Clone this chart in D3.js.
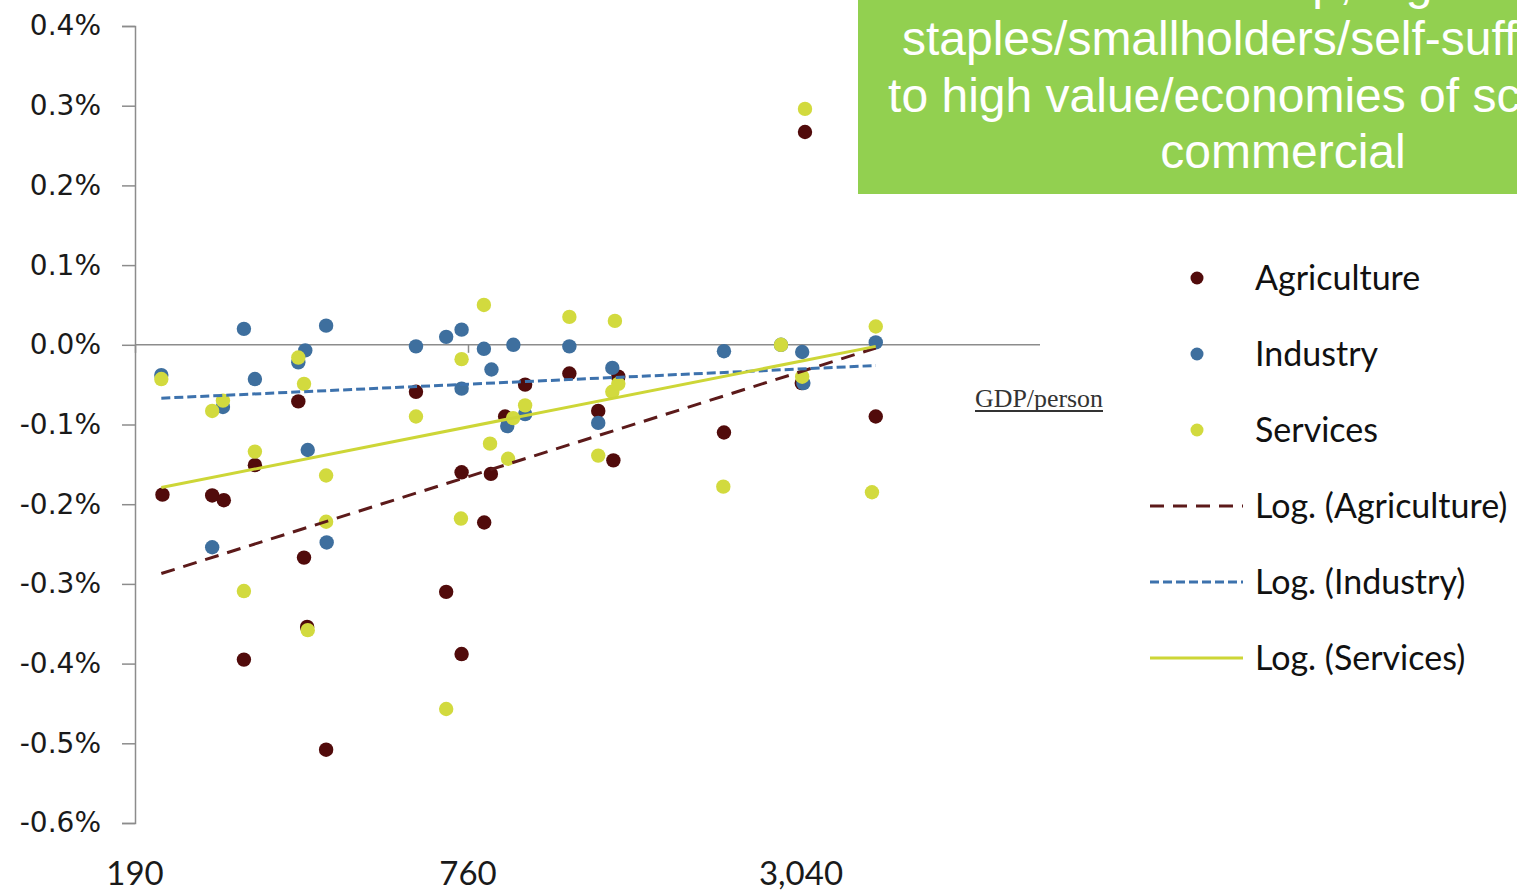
<!DOCTYPE html>
<html lang="en">
<head>
<meta charset="utf-8">
<script src="https://cdn.jsdelivr.net/npm/d3@7/dist/d3.min.js"></script>
<style>
  body { margin: 0; background: #fff; }
  svg { display: block; }
</style>
</head>
<body>
<svg id="chart"></svg>
<script>
// GDP per person (log axis) vs change in share, % per year
const agriculture = [
  [213, -0.188], [262, -0.189], [275, -0.195], [299, -0.395], [313, -0.151],
  [375, -0.071], [384, -0.267], [389, -0.354], [421, -0.508], [612, -0.059],
  [694, -0.310], [740, -0.160], [740, -0.388], [813, -0.223], [836, -0.162],
  [887, -0.090], [964, -0.050], [1159, -0.036], [1307, -0.083], [1392, -0.145],
  [1421, -0.040], [2206, -0.110], [3050, -0.048], [3091, 0.267], [4150, -0.090]
];
const industry = [
  [212, -0.038], [262, -0.254], [274, -0.078], [299, 0.020], [313, -0.043],
  [375, -0.022], [386, -0.007], [390, -0.132], [421, 0.024], [422, -0.248],
  [612, -0.002], [694, 0.010], [740, 0.019], [740, -0.055], [812, -0.005],
  [838, -0.031], [895, -0.102], [918, 0.000], [964, -0.087], [1159, -0.002],
  [1307, -0.098], [1386, -0.029], [2206, -0.008], [2797, 0.000], [3055, -0.009],
  [3070, -0.048], [4150, 0.003]
];
const services = [
  [212, -0.043], [262, -0.083], [274, -0.070], [299, -0.309], [313, -0.134],
  [375, -0.016], [384, -0.049], [390, -0.358], [421, -0.164], [421, -0.222],
  [612, -0.090], [694, -0.457], [740, -0.018], [738, -0.218], [812, 0.050],
  [833, -0.124], [898, -0.143], [917, -0.092], [964, -0.076], [1159, 0.035],
  [1307, -0.139], [1386, -0.059], [1401, 0.030], [1421, -0.049], [2200, -0.178],
  [2797, 0.000], [3055, -0.040], [3091, 0.296], [4085, -0.185], [4150, 0.023]
];

// logarithmic trendlines (straight on the log axis), start and end
const trendAgriculture = [[212, -0.287], [4150, -0.004]];
const trendIndustry = [[212, -0.067], [4150, -0.026]];
const trendServices = [[212, -0.179], [4150, -0.002]];

const xTicks = [190, 760, 3040];
const yTicks = d3.range(-6, 5).map(d => d / 10);

const boxLines = [
  "Farms scale up, e.g. from",
  "staples/smallholders/self-sufficiency",
  "to high value/economies of scale and",
  "commercial"
];

const width = 1517;
const height = 895;

const svg = d3.select("#chart")
    .attr("width", width)
    .attr("height", height);

const x = d3.scaleLog().domain([190, 3040]).range([135, 801]);
const y = d3.scaleLinear().domain([-0.6, 0.4]).range([823, 26]);

const series = [
  { name: "Agriculture", data: agriculture, trend: trendAgriculture,
    dot: "#510b0b", line: "#5c1a1a", dash: "14,9" },
  { name: "Industry", data: industry, trend: trendIndustry,
    dot: "#3e6f9e", line: "#3d72ad", dash: "9,4" },
  { name: "Services", data: services, trend: trendServices,
    dot: "#d2da3e", line: "#cdd637", dash: null }
];

// y axis
const yAxis = svg.append("g")
    .attr("transform", "translate(135,0)")
    .call(d3.axisLeft(y).tickValues(yTicks).tickSize(13).tickPadding(21)
        .tickFormat(d => d.toFixed(1) + "%"));
yAxis.select(".domain").attr("stroke", "#8c8c8c").attr("stroke-width", 1.5);
yAxis.selectAll(".tick line").attr("stroke", "#8c8c8c").attr("stroke-width", 1.5);
yAxis.selectAll("text")
    .attr("font-family", "'DejaVu Sans', Verdana, sans-serif")
    .attr("font-size", 28)
    .attr("fill", "#1a1a1a");

// x axis crosses at zero, labels sit at the bottom
const xAxis = svg.append("g")
    .attr("transform", `translate(0,${y(0)})`)
    .call(d3.axisBottom(x).tickValues(xTicks).tickSize(8).tickFormat(""));
xAxis.select(".domain")
    .attr("d", `M${x(190)},0H1040`)
    .attr("stroke", "#8c8c8c").attr("stroke-width", 1.5);
xAxis.selectAll(".tick line").attr("stroke", "#8c8c8c").attr("stroke-width", 1.5);

svg.append("g").selectAll("text")
    .data(xTicks)
    .join("text")
    .attr("x", d => x(d))
    .attr("y", 885)
    .attr("text-anchor", "middle")
    .attr("font-family", "Lato, sans-serif")
    .attr("font-size", 33)
    .attr("fill", "#1a1a1a")
    .text(d => d3.format(",")(d));

// points
series.forEach(s => {
  svg.append("g").selectAll("circle")
      .data(s.data)
      .join("circle")
      .attr("cx", d => x(d[0]))
      .attr("cy", d => y(d[1]))
      .attr("r", 7.2)
      .attr("fill", s.dot);
});

// trendlines
const line = d3.line().x(d => x(d[0])).y(d => y(d[1]));
series.forEach(s => {
  svg.append("path")
      .datum(s.trend)
      .attr("d", line)
      .attr("fill", "none")
      .attr("stroke", s.line)
      .attr("stroke-width", 3)
      .attr("stroke-dasharray", s.dash);
});

// axis title
svg.append("text")
    .attr("x", 975)
    .attr("y", 407)
    .attr("font-family", "'Liberation Serif', 'DejaVu Serif', serif")
    .attr("font-size", 25)
    .attr("textLength", 128)
    .attr("lengthAdjust", "spacingAndGlyphs")
    .attr("fill", "#333")
    .text("GDP/person");
svg.append("line")
    .attr("x1", 975).attr("x2", 1103)
    .attr("y1", 411).attr("y2", 411)
    .attr("stroke", "#333").attr("stroke-width", 2);

// legend
const legend = svg.append("g");
series.forEach((s, i) => {
  const cy = 278 + i * 76;
  legend.append("circle")
      .attr("cx", 1197).attr("cy", cy).attr("r", 6.5)
      .attr("fill", s.dot);
  legend.append("text")
      .attr("x", 1255).attr("y", cy + 12)
      .attr("font-family", "Lato, sans-serif")
      .attr("font-size", 34)
      .attr("fill", "#111")
      .text(s.name);
});
series.forEach((s, i) => {
  const ly = 506 + i * 76;
  legend.append("line")
      .attr("x1", 1150).attr("x2", 1243)
      .attr("y1", ly).attr("y2", ly)
      .attr("stroke", s.line)
      .attr("stroke-width", 3)
      .attr("stroke-dasharray", s.dash);
  legend.append("text")
      .attr("x", 1255).attr("y", ly + 12)
      .attr("font-family", "Lato, sans-serif")
      .attr("font-size", 34)
      .attr("fill", "#111")
      .text(`Log. (${s.name})`);
});

// green call-out box, runs off the right edge as in the source slide
svg.append("rect")
    .attr("x", 858).attr("y", -10)
    .attr("width", 900).attr("height", 204)
    .attr("fill", "#92d050");
svg.append("g").selectAll("text")
    .data(boxLines)
    .join("text")
    .attr("x", 1283)
    .attr("y", (d, i) => -1.5 + i * 56.5)
    .attr("text-anchor", "middle")
    .attr("font-family", "'Liberation Sans', Arial, sans-serif")
    .attr("font-size", 48)
    .attr("fill", "#fff")
    .text(d => d);
</script>
</body>
</html>
